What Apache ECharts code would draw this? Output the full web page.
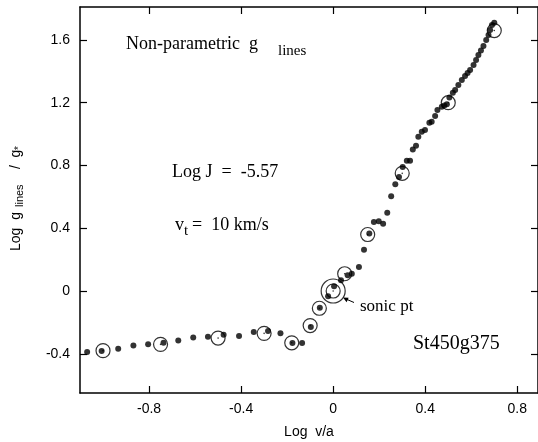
<!DOCTYPE html>
<html>
<head>
<meta charset="utf-8">
<script src="https://cdn.jsdelivr.net/npm/echarts@6/dist/echarts.min.js"></script>
<style>
  html, body { margin: 0; padding: 0; background: #fff; }
  #chart { width: 538px; height: 442px; }
</style>
</head>
<body>
<div id="chart"></div>
<script>
// filled dots: Log v/a and Log g_lines/g*
var dotX = [-1.069, -1.006, -0.934, -0.868, -0.804, -0.737, -0.673, -0.608, -0.544, -0.476,
  -0.409, -0.345, -0.283, -0.229, -0.177, -0.135, -0.097, -0.058, -0.022, 0.004,
  0.034, 0.063, 0.081, 0.112, 0.134, 0.157, 0.177, 0.198, 0.217, 0.235,
  0.252, 0.270, 0.286, 0.302, 0.320, 0.334, 0.346, 0.360, 0.370, 0.385,
  0.399, 0.418, 0.428, 0.443, 0.453, 0.472, 0.483, 0.494, 0.505, 0.520,
  0.530, 0.544, 0.559, 0.573, 0.584, 0.595, 0.610, 0.621, 0.631, 0.642,
  0.653, 0.665, 0.675, 0.682, 0.690, 0.700];
var dotY = [-0.389, -0.383, -0.368, -0.348, -0.340, -0.329, -0.315, -0.297, -0.292, -0.278,
  -0.287, -0.262, -0.255, -0.270, -0.332, -0.332, -0.230, -0.106, -0.034, 0.030,
  0.068, 0.100, 0.110, 0.153, 0.263, 0.366, 0.440, 0.445, 0.429, 0.498,
  0.604, 0.680, 0.727, 0.791, 0.830, 0.830, 0.902, 0.925, 0.983, 1.015,
  1.026, 1.072, 1.078, 1.115, 1.153, 1.174, 1.182, 1.191, 1.234, 1.264,
  1.281, 1.313, 1.345, 1.370, 1.390, 1.408, 1.440, 1.472, 1.504, 1.532,
  1.562, 1.600, 1.632, 1.664, 1.696, 1.710];

// open circles
var ringX = [-1.0, -0.75, -0.5, -0.3, -0.18, -0.1, -0.06, 0.05, 0.15, 0.3, 0.5, 0.7];
var ringY = [-0.38, -0.34, -0.30, -0.27, -0.33, -0.22, -0.11, 0.11, 0.36, 0.75, 1.20, 1.66];

// sonic point
var sonicX = [0];
var sonicY = [0];

var xTicks = [-0.8, -0.4, 0, 0.4, 0.8];
var yTicks = [-0.4, 0, 0.4, 0.8, 1.2, 1.6];

function pairs(xs, ys) {
  var out = [];
  for (var i = 0; i < xs.length; i++) out.push([xs[i], ys[i]]);
  return out;
}
function fmt(v) { return v === 0 ? '0' : v.toFixed(1); }

var chart = echarts.init(document.getElementById('chart'));

var sans = '"Liberation Sans", Arial, sans-serif';
var serif = '"Liberation Serif", "Times New Roman", serif';

var axisBase = {
  type: 'value',
  axisLine: { show: true, onZero: false, lineStyle: { color: '#000', width: 1.5 } },
  splitLine: { show: false }
};

var option = {
  animation: false,
  backgroundColor: '#fff',
  grid: { left: 80, top: 7, right: 0, bottom: 49, containLabel: false, outerBoundsMode: 'none' },
  xAxis: [
    echarts.util.merge({
      position: 'bottom', min: -1.1, max: 0.89,
      axisTick: { show: true, inside: true, length: 7, customValues: xTicks, lineStyle: { color: '#000', width: 1.2 } },
      axisLabel: { customValues: xTicks, formatter: fmt, color: '#000', fontSize: 14, fontFamily: sans, margin: 9 },
      name: 'Log  v/a', nameLocation: 'middle', nameGap: 32,
      nameTextStyle: { color: '#000', fontSize: 14, fontFamily: sans }
    }, axisBase, true),
    echarts.util.merge({
      position: 'top', min: -1.1, max: 0.89,
      axisTick: { show: true, inside: true, length: 7, customValues: xTicks, lineStyle: { color: '#000', width: 1.2 } },
      axisLabel: { show: false }
    }, axisBase, true)
  ],
  yAxis: [
    echarts.util.merge({
      position: 'left', min: -0.65, max: 1.81,
      axisTick: { show: true, inside: true, length: 7, customValues: yTicks, lineStyle: { color: '#000', width: 1.2 } },
      axisLabel: { customValues: yTicks, formatter: fmt, color: '#000', fontSize: 14, fontFamily: sans, margin: 10 }
    }, axisBase, true),
    echarts.util.merge({
      position: 'right', min: -0.65, max: 1.81,
      axisTick: { show: true, inside: true, length: 7, customValues: yTicks, lineStyle: { color: '#000', width: 1.2 } },
      axisLabel: { show: false }
    }, axisBase, true)
  ],
  series: [
    {
      type: 'scatter', symbol: 'circle', symbolSize: 6,
      itemStyle: { color: '#000' },
      data: pairs(dotX, dotY)
    },
    {
      type: 'scatter', symbol: 'circle', symbolSize: 14,
      itemStyle: { color: 'rgba(0,0,0,0)', borderColor: '#000', borderWidth: 1.2 },
      data: pairs(ringX, ringY)
    },
    {
      type: 'scatter', symbol: 'circle', symbolSize: 1.6,
      itemStyle: { color: '#000' },
      data: pairs(ringX, ringY)
    },
    {
      type: 'scatter', symbol: 'circle', symbolSize: 14,
      itemStyle: { color: 'rgba(0,0,0,0)', borderColor: '#000', borderWidth: 1.2 },
      data: pairs(sonicX, sonicY)
    },
    {
      type: 'scatter', symbol: 'circle', symbolSize: 24,
      itemStyle: { color: 'rgba(0,0,0,0)', borderColor: '#000', borderWidth: 1.2 },
      data: pairs(sonicX, sonicY)
    },
    {
      type: 'scatter', symbol: 'circle', symbolSize: 1.6,
      itemStyle: { color: '#000' },
      data: pairs(sonicX, sonicY)
    }
  ],
  graphic: [
    { type: 'text', x: 126, y: 44, style: { text: 'Non-parametric  g', font: '18px ' + serif, fill: '#000', verticalAlign: 'middle' } },
    { type: 'text', x: 278, y: 51, style: { text: 'lines', font: '15px ' + serif, fill: '#000', verticalAlign: 'middle' } },
    { type: 'text', x: 172, y: 172, style: { text: 'Log J  =  -5.57', font: '18px ' + serif, fill: '#000', verticalAlign: 'middle' } },
    { type: 'text', x: 175, y: 225, style: { text: 'v', font: '18px ' + serif, fill: '#000', verticalAlign: 'middle' } },
    { type: 'text', x: 184, y: 231, style: { text: 't', font: '15px ' + serif, fill: '#000', verticalAlign: 'middle' } },
    { type: 'text', x: 192, y: 225, style: { text: '=  10 km/s', font: '18px ' + serif, fill: '#000', verticalAlign: 'middle' } },
    { type: 'text', x: 360, y: 307, style: { text: 'sonic pt', font: '17px ' + serif, fill: '#000', verticalAlign: 'middle' } },
    { type: 'text', x: 413, y: 344, style: { text: 'St450g375', font: '20px ' + serif, fill: '#000', verticalAlign: 'middle' } },
    { type: 'line', shape: { x1: 354, y1: 302.5, x2: 346, y2: 299 }, style: { stroke: '#000', lineWidth: 1 } },
    { type: 'polygon', shape: { points: [[343, 297.6], [348.6, 297.8], [346.6, 302.2]] }, style: { fill: '#000' } },
    {
      type: 'group', x: 16, y: 251, rotation: Math.PI / 2,
      children: [
        { type: 'text', x: 0, y: 0, style: { text: 'Log  g', font: '14px ' + sans, fill: '#000', verticalAlign: 'middle' } },
        { type: 'text', x: 44, y: 4, style: { text: 'lines', font: '11px ' + sans, fill: '#000', verticalAlign: 'middle' } },
        { type: 'text', x: 78, y: 0, style: { text: ' /  g', font: '14px ' + sans, fill: '#000', verticalAlign: 'middle' } },
        { type: 'text', x: 101, y: 3, style: { text: '*', font: '10px ' + sans, fill: '#000', verticalAlign: 'middle' } }
      ]
    }
  ]
};

chart.setOption(option);
</script>
</body>
</html>
